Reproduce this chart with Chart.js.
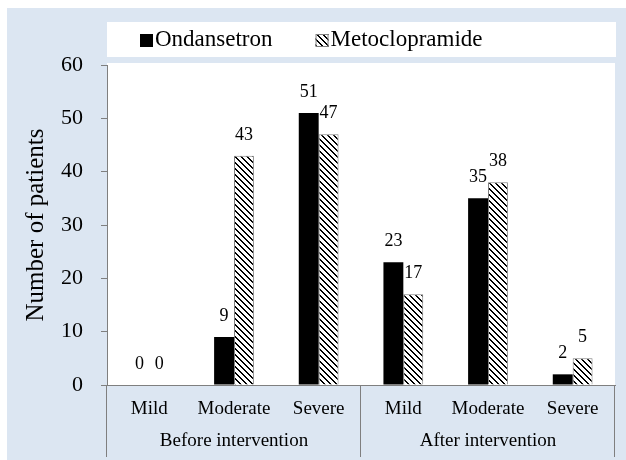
<!DOCTYPE html>
<html>
<head>
<meta charset="utf-8">
<script src="https://cdn.jsdelivr.net/npm/chart.js@4.4.1/dist/chart.umd.min.js"></script>
<style>
  html, body { margin: 0; padding: 0; background: #ffffff; }
  #chart { display: block; }
</style>
</head>
<body>
<canvas id="chart" width="626" height="460"></canvas>
<script>
// x axis, two levels
const severityLabels = ['Mild', 'Moderate', 'Severe', 'Mild', 'Moderate', 'Severe'];
const groupLabels = ['Before intervention', 'After intervention'];
const groupSizes = [3, 3];

// number of patients
const ondansetron = [0, 9, 51, 23, 35, 2];
const metoclopramide = [0, 43, 47, 17, 38, 5];

const yMin = 0;
const yMax = 60;
const yStep = 10;

const FONT = "'Liberation Serif', 'Times New Roman', serif";
const BG_BLUE = '#dce6f2';
const AXIS_GRAY = '#7f7f7f';

// diagonal hatch, top-left to bottom-right
function makeHatch(ctx) {
    const tile = document.createElement('canvas');
    tile.width = 6;
    tile.height = 6;
    const c = tile.getContext('2d');
    c.fillStyle = '#ffffff';
    c.fillRect(0, 0, 6, 6);
    c.fillStyle = '#000000';
    for (let i = 0; i < 6; i++) {
        c.fillRect(i, i, 1, 1);
        c.fillRect((i + 1) % 6, i, 1, 1);
    }
    return ctx.createPattern(tile, 'repeat');
}

const canvas = document.getElementById('chart');
const ctx = canvas.getContext('2d');
const hatch = makeHatch(ctx);

const decor = {
    id: 'decor',
    beforeDraw(chart) {
        const { ctx, chartArea: a, width, height } = chart;
        ctx.save();
        ctx.fillStyle = BG_BLUE;
        ctx.fillRect(7, 8, width - 7, height - 8);
        ctx.fillStyle = '#ffffff';
        // legend panel
        ctx.fillRect(a.left, 22, a.right + 1 - a.left, 35);
        // plot panel
        ctx.fillRect(a.left, a.top - 2, a.right - a.left, a.bottom - a.top + 2);
        ctx.restore();
    },
    afterDraw(chart) {
        const { ctx, chartArea: a, height } = chart;
        const xs = chart.scales.x;
        ctx.save();

        // legend
        ctx.font = '23px ' + FONT;
        ctx.textBaseline = 'middle';
        ctx.textAlign = 'left';
        let lx = a.left + 33;
        const ly = 40;
        chart.data.datasets.forEach((ds) => {
            ctx.fillStyle = ds.backgroundColor;
            ctx.fillRect(lx, ly - 6, 13, 13);
            if (ds.borderWidth) {
                ctx.strokeStyle = ds.borderColor;
                ctx.lineWidth = 1;
                ctx.strokeRect(lx + 0.5, ly - 5.5, 12, 12);
            }
            ctx.fillStyle = '#000000';
            ctx.fillText(ds.label, lx + 15, ly);
            lx += 15 + ctx.measureText(ds.label).width + 43;
        });

        // value labels
        ctx.font = '18px ' + FONT;
        ctx.textAlign = 'center';
        ctx.textBaseline = 'alphabetic';
        ctx.fillStyle = '#000000';
        chart.data.datasets.forEach((ds, di) => {
            chart.getDatasetMeta(di).data.forEach((el, i) => {
                ctx.fillText(String(ds.data[i]), el.x, el.y - 16);
            });
        });

        // category labels
        ctx.font = '19px ' + FONT;
        ctx.textBaseline = 'middle';
        severityLabels.forEach((lab, i) => {
            ctx.fillText(lab, xs.getPixelForValue(i), a.bottom + 24);
        });

        // group labels and separators
        ctx.strokeStyle = AXIS_GRAY;
        ctx.lineWidth = 1;
        const step = (a.right - a.left) / severityLabels.length;
        let start = 0;
        const seps = [a.left];
        groupLabels.forEach((g, gi) => {
            const end = start + groupSizes[gi] - 1;
            const cx = (xs.getPixelForValue(start) + xs.getPixelForValue(end)) / 2;
            ctx.fillText(g, cx, a.bottom + 56);
            seps.push(xs.getPixelForValue(end) + step / 2);
            start = end + 1;
        });
        seps.forEach((sx) => {
            const px = Math.round(sx) - 0.5;
            ctx.beginPath();
            ctx.moveTo(px, a.bottom);
            ctx.lineTo(px, height - 3);
            ctx.stroke();
        });
        ctx.restore();
    },
};

new Chart(ctx, {
    type: 'bar',
    data: {
        labels: severityLabels,
        datasets: [
            {
                label: 'Ondansetron',
                data: ondansetron,
                backgroundColor: '#000000',
                borderWidth: 0,
            },
            {
                label: 'Metoclopramide',
                data: metoclopramide,
                backgroundColor: hatch,
                borderColor: AXIS_GRAY,
                borderWidth: 1,
            },
        ],
    },
    options: {
        responsive: false,
        animation: false,
        devicePixelRatio: 1,
        layout: {
            padding: { left: 0, right: 11, top: 65, bottom: 0 },
        },
        datasets: {
            bar: {
                categoryPercentage: 0.47,
                barPercentage: 1.0,
            },
        },
        plugins: {
            legend: { display: false },
            tooltip: { enabled: false },
        },
        scales: {
            x: {
                grid: { display: false },
                border: { display: true, color: AXIS_GRAY, width: 1 },
                ticks: { display: false },
                afterFit: (s) => {
                    s.height = 75;
                },
            },
            y: {
                min: yMin,
                max: yMax,
                ticks: {
                    stepSize: yStep,
                    padding: 18,
                    color: '#000000',
                    font: { family: FONT, size: 22 },
                },
                grid: {
                    drawOnChartArea: false,
                    drawTicks: true,
                    tickLength: 6,
                    color: AXIS_GRAY,
                },
                border: { display: true, color: AXIS_GRAY, width: 1 },
                title: {
                    display: true,
                    text: 'Number of patients',
                    color: '#000000',
                    font: { family: FONT, size: 25 },
                    padding: { top: 21, bottom: 0 },
                },
                afterFit: (s) => {
                    s.width = 107;
                },
            },
        },
    },
    plugins: [decor],
});
</script>
</body>
</html>
